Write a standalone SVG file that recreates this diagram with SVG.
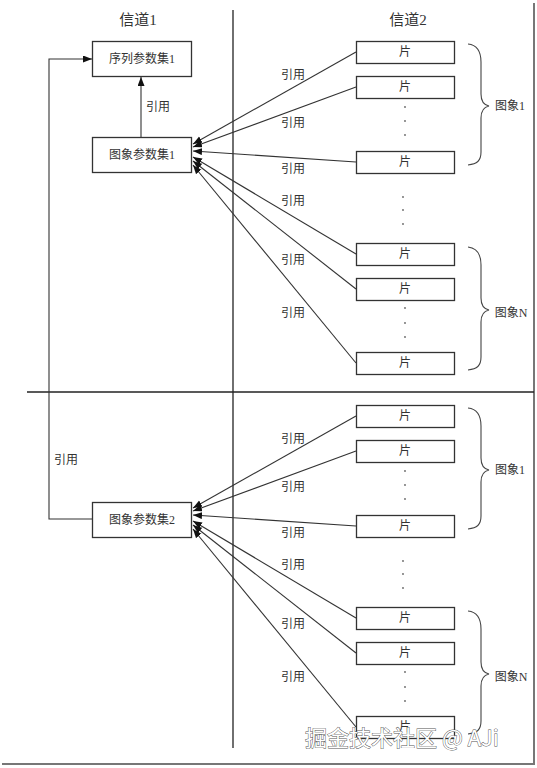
<svg xmlns="http://www.w3.org/2000/svg" width="537" height="768" viewBox="0 0 537 768">
<style>
.bg{fill:#fff}
.box{fill:#fff;stroke:#333;stroke-width:1.3}
.t{font-family:"Liberation Serif","Noto Sans CJK SC",serif;font-size:12px;fill:#333;text-anchor:middle;dominant-baseline:central}
.lbl{font-family:"Liberation Serif","Noto Sans CJK SC",serif;font-size:12px;fill:#333;text-anchor:middle;dominant-baseline:central}
.title{font-family:"Liberation Serif","Noto Sans CJK SC",serif;font-size:15px;fill:#333;text-anchor:middle;dominant-baseline:central}
.ln{fill:none;stroke:#333;stroke-width:1.1}
.div{fill:none;stroke:#222;stroke-width:1.3}
.brace{fill:none;stroke:#444;stroke-width:1.1}
.dot{fill:#666}
.wm{font-family:"Noto Sans CJK SC",sans-serif;font-size:22px;fill:#fff;stroke:#555;stroke-width:0.9;paint-order:stroke}
</style>
<defs>
<marker id="ah" markerUnits="userSpaceOnUse" markerWidth="10" markerHeight="8" refX="9" refY="3.5" orient="auto">
<path d="M0,0 L9,3.5 L0,7 z" fill="#111"/>
</marker>
</defs>
<rect class="bg" x="0" y="0" width="537" height="768"/>
<g id="frame">
<line x1="534" y1="3" x2="534" y2="765" stroke="#777" stroke-width="2"/>
<line x1="2" y1="764" x2="535" y2="764" stroke="#777" stroke-width="2"/>
<line class="div" x1="233" y1="10" x2="233" y2="748"/>
<line class="div" x1="27" y1="392" x2="534" y2="392"/>
</g>
<g id="titles">
<text class="title" x="138" y="20">信道1</text>
<text class="title" x="408" y="20">信道2</text>
</g>
<g id="connectors">
<line class="ln" x1="141" y1="137" x2="141" y2="77" marker-end="url(#ah)"/>
<polyline class="ln" points="92,519 49,519 49,59 92,59" marker-end="url(#ah)"/>
<line class="ln" x1="356" y1="52" x2="193" y2="144" marker-end="url(#ah)"/>
<line class="ln" x1="356" y1="87" x2="193" y2="147" marker-end="url(#ah)"/>
<line class="ln" x1="356" y1="162" x2="193" y2="151" marker-end="url(#ah)"/>
<line class="ln" x1="356" y1="254" x2="193" y2="157" marker-end="url(#ah)"/>
<line class="ln" x1="356" y1="289" x2="193" y2="161" marker-end="url(#ah)"/>
<line class="ln" x1="356" y1="363" x2="193" y2="165" marker-end="url(#ah)"/>
<line class="ln" x1="356" y1="416" x2="193" y2="508" marker-end="url(#ah)"/>
<line class="ln" x1="356" y1="451" x2="193" y2="511" marker-end="url(#ah)"/>
<line class="ln" x1="356" y1="526" x2="193" y2="515" marker-end="url(#ah)"/>
<line class="ln" x1="356" y1="618" x2="193" y2="521" marker-end="url(#ah)"/>
<line class="ln" x1="356" y1="653" x2="193" y2="525" marker-end="url(#ah)"/>
<line class="ln" x1="356" y1="727" x2="193" y2="529" marker-end="url(#ah)"/>
<text class="lbl" x="158" y="107">引用</text>
<text class="lbl" x="66" y="460">引用</text>
<text class="lbl" x="293" y="75">引用</text>
<text class="lbl" x="293" y="123">引用</text>
<text class="lbl" x="293" y="169">引用</text>
<text class="lbl" x="293" y="201">引用</text>
<text class="lbl" x="293" y="260">引用</text>
<text class="lbl" x="293" y="313">引用</text>
<text class="lbl" x="293" y="439">引用</text>
<text class="lbl" x="293" y="487">引用</text>
<text class="lbl" x="293" y="533">引用</text>
<text class="lbl" x="293" y="565">引用</text>
<text class="lbl" x="293" y="624">引用</text>
<text class="lbl" x="293" y="677">引用</text>
</g>
<g id="sps1"><rect class="box" x="92.5" y="41.5" width="99" height="35"/><text class="t" x="142" y="59">序列参数集1</text></g>
<g id="pps1"><rect class="box" x="92.5" y="137.5" width="99" height="35"/><text class="t" x="142" y="155">图象参数集1</text></g>
<g id="pps2"><rect class="box" x="92.5" y="502.5" width="99" height="35"/><text class="t" x="142" y="520">图象参数集2</text></g>
<g id="s1"><rect class="box" x="356.5" y="41.5" width="98" height="22"/><text class="t" x="405" y="52">片</text></g>
<g id="s2"><rect class="box" x="356.5" y="76.5" width="98" height="22"/><text class="t" x="405" y="87">片</text></g>
<g id="s3"><rect class="box" x="356.5" y="151.5" width="98" height="22"/><text class="t" x="405" y="162">片</text></g>
<g id="s4"><rect class="box" x="356.5" y="243.5" width="98" height="22"/><text class="t" x="405" y="254">片</text></g>
<g id="s5"><rect class="box" x="356.5" y="278.5" width="98" height="22"/><text class="t" x="405" y="289">片</text></g>
<g id="s6"><rect class="box" x="356.5" y="352.5" width="98" height="22"/><text class="t" x="405" y="363">片</text></g>
<g id="s7"><rect class="box" x="356.5" y="405.5" width="98" height="22"/><text class="t" x="405" y="416">片</text></g>
<g id="s8"><rect class="box" x="356.5" y="440.5" width="98" height="22"/><text class="t" x="405" y="451">片</text></g>
<g id="s9"><rect class="box" x="356.5" y="515.5" width="98" height="22"/><text class="t" x="405" y="526">片</text></g>
<g id="s10"><rect class="box" x="356.5" y="607.5" width="98" height="22"/><text class="t" x="405" y="618">片</text></g>
<g id="s11"><rect class="box" x="356.5" y="642.5" width="98" height="22"/><text class="t" x="405" y="653">片</text></g>
<g id="s12"><rect class="box" x="356.5" y="716.5" width="98" height="22"/><text class="t" x="405" y="727">片</text></g>
<g id="dots">
<circle class="dot" cx="405" cy="107" r="0.9"/><circle class="dot" cx="405" cy="121" r="0.9"/><circle class="dot" cx="405" cy="135" r="0.9"/>
<circle class="dot" cx="403" cy="197" r="0.9"/><circle class="dot" cx="403" cy="210" r="0.9"/><circle class="dot" cx="403" cy="224" r="0.9"/>
<circle class="dot" cx="405" cy="308" r="0.9"/><circle class="dot" cx="405" cy="323" r="0.9"/><circle class="dot" cx="405" cy="337" r="0.9"/>
<circle class="dot" cx="405" cy="471" r="0.9"/><circle class="dot" cx="405" cy="485" r="0.9"/><circle class="dot" cx="405" cy="499" r="0.9"/>
<circle class="dot" cx="403" cy="561" r="0.9"/><circle class="dot" cx="403" cy="574" r="0.9"/><circle class="dot" cx="403" cy="588" r="0.9"/>
<circle class="dot" cx="405" cy="672" r="0.9"/><circle class="dot" cx="405" cy="687" r="0.9"/><circle class="dot" cx="405" cy="701" r="0.9"/>
</g>
<g id="braces">
<path class="brace" d="M468,44 C477,45 481,51 481,62 L481,94 C481,101 484,105 489,106 C484,107 481,111 481,118 L481,152 C481,161 477,164 468,165"/>
<path class="brace" d="M468,247 C477,248 481,254 481,265 L481,298 C481,305 484,309 489,310 C484,311 481,315 481,322 L481,357 C481,366 477,369 468,370"/>
<path class="brace" d="M468,408 C477,409 481,415 481,426 L481,458 C481,465 484,469 489,470 C484,471 481,475 481,482 L481,516 C481,525 477,528 468,529"/>
<path class="brace" d="M468,611 C477,612 481,618 481,629 L481,662 C481,669 484,673 489,674 C484,675 481,679 481,686 L481,721 C481,730 477,733 468,734"/>
<text class="lbl" x="510" y="106">图象1</text>
<text class="lbl" x="511" y="313">图象N</text>
<text class="lbl" x="510" y="470">图象1</text>
<text class="lbl" x="511" y="677">图象N</text>
</g>
<g id="watermark">
<text class="wm" x="305" y="746" font-size="22.5">掘金技术社区 @ AJi</text>
</g>
</svg>
